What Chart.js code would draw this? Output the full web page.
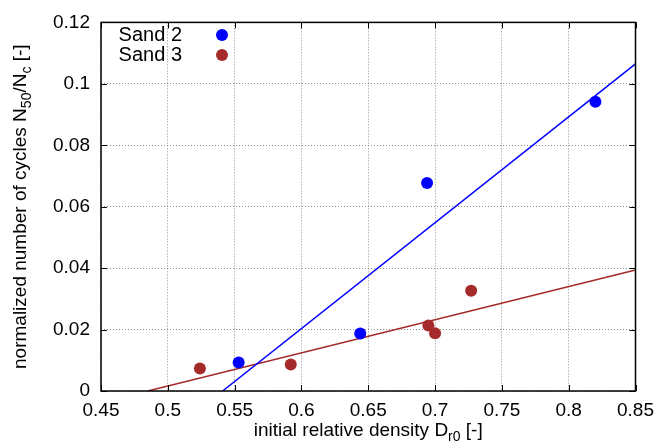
<!DOCTYPE html>
<html>
<head>
<meta charset="utf-8">
<script src="https://cdn.jsdelivr.net/npm/chart.js@4.4.1/dist/chart.umd.min.js"></script>
<style>
  html, body { margin: 0; padding: 0; background: #fff; }
  #wrap { width: 662px; height: 443px; }
</style>
</head>
<body>
<div id="wrap"><canvas id="chart"></canvas></div>
<script>
// --- data ---
const sand2X = [0.553, 0.644, 0.694, 0.820];
const sand2Y = [0.0093, 0.0187, 0.0677, 0.0942];
const sand3X = [0.524, 0.592, 0.695, 0.700, 0.727];
const sand3Y = [0.0073, 0.0086, 0.0213, 0.0188, 0.0326];

// fitted lines (end points)
const fit2X = [0.541, 0.85];
const fit2Y = [0, 0.1065];
const fit3X = [0.485, 0.85];
const fit3Y = [0, 0.0394];

const xTicks = [0.45, 0.5, 0.55, 0.6, 0.65, 0.7, 0.75, 0.8, 0.85];
const yTicks = [0, 0.02, 0.04, 0.06, 0.08, 0.1, 0.12];

const seriesNames = ['Sand 2', 'Sand 3'];
const BLUE = '#0000ff';
const BROWN = '#a52a2a';
const FONT = '"Liberation Sans", Arial, sans-serif';
const FSIZE = 19;

const pts = (xs, ys) => xs.map((x, i) => ({ x: x, y: ys[i] }));
const fmt = v => String(Number(v.toFixed(3)));

// draw a string made of normal and subscript parts
function richText(ctx, parts, x, y, size) {
  const subSize = Math.round(size * 0.72);
  let w = 0;
  parts.forEach(p => {
    ctx.font = (p.sub ? subSize : size) + 'px ' + FONT;
    p.w = ctx.measureText(p.t).width;
    w += p.w;
  });
  let cx = x - w / 2;
  ctx.textAlign = 'left';
  ctx.textBaseline = 'middle';
  parts.forEach(p => {
    ctx.font = (p.sub ? subSize : size) + 'px ' + FONT;
    ctx.fillText(p.t, cx, p.sub ? y + size * 0.3 : y);
    cx += p.w;
  });
}

const decor = {
  id: 'decor',
  afterDraw(chart) {
    const { ctx, chartArea: a, scales } = chart;
    ctx.save();
    ctx.fillStyle = '#000';
    ctx.strokeStyle = '#000';

    // inward ticks on all sides
    ctx.lineWidth = 1;
    ctx.beginPath();
    xTicks.forEach(v => {
      const px = Math.round(scales.x.getPixelForValue(v)) + 0.5;
      ctx.moveTo(px, a.bottom); ctx.lineTo(px, a.bottom - 6);
      ctx.moveTo(px, a.top); ctx.lineTo(px, a.top + 6);
    });
    yTicks.forEach(v => {
      const py = Math.round(scales.y.getPixelForValue(v)) + 0.5;
      ctx.moveTo(a.left, py); ctx.lineTo(a.left + 6, py);
      ctx.moveTo(a.right, py); ctx.lineTo(a.right - 6, py);
    });
    ctx.stroke();

    // frame
    ctx.lineWidth = 1.5;
    ctx.strokeRect(a.left, a.top, a.right - a.left, a.bottom - a.top);

    // axis titles
    richText(ctx, [
      { t: 'initial relative density D' }, { t: 'r0', sub: true }, { t: ' [-]' }
    ], (a.left + a.right) / 2, 431, FSIZE);

    ctx.save();
    ctx.translate(21, (a.top + a.bottom) / 2);
    ctx.rotate(-Math.PI / 2);
    richText(ctx, [
      { t: 'normalized number of cycles N' }, { t: '50', sub: true },
      { t: '/N' }, { t: 'c', sub: true }, { t: ' [-]' }
    ], 0, 0, FSIZE);
    ctx.restore();

    // legend, gnuplot style: text then marker
    const colors = [BLUE, BROWN];
    ctx.font = '20px ' + FONT;
    ctx.textAlign = 'right';
    ctx.textBaseline = 'middle';
    seriesNames.forEach((name, i) => {
      const ly = 35 + i * 20;
      ctx.fillStyle = '#000';
      ctx.fillText(name, 182, ly);
      ctx.fillStyle = colors[i];
      ctx.beginPath();
      ctx.arc(222, ly, 6, 0, Math.PI * 2);
      ctx.fill();
    });
    ctx.restore();
  }
};

const gridOpts = { color: '#8c8c8c', drawTicks: false, lineWidth: 1 };
const borderOpts = { display: false, dash: [1, 2] };

new Chart(document.getElementById('chart'), {
  type: 'scatter',
  data: {
    datasets: [
      { label: 'fit 2', data: pts(fit2X, fit2Y), showLine: true, borderColor: BLUE,
        borderWidth: 1.5, pointRadius: 0, order: 3 },
      { label: 'fit 3', data: pts(fit3X, fit3Y), showLine: true, borderColor: BROWN,
        borderWidth: 1.5, pointRadius: 0, order: 4 },
      { label: seriesNames[0], data: pts(sand2X, sand2Y), backgroundColor: BLUE,
        borderWidth: 0, pointRadius: 6, order: 1 },
      { label: seriesNames[1], data: pts(sand3X, sand3Y), backgroundColor: BROWN,
        borderWidth: 0, pointRadius: 6, order: 2 }
    ]
  },
  options: {
    responsive: true,
    maintainAspectRatio: false,
    animation: false,
    layout: { padding: { left: 0, right: 24, top: 19, bottom: 0 } },
    plugins: { legend: { display: false }, tooltip: { enabled: false } },
    scales: {
      x: {
        type: 'linear', min: 0.45, max: 0.85,
        afterBuildTicks: s => { s.ticks = xTicks.map(v => ({ value: v })); },
        afterFit: s => { s.height = 52; },
        border: borderOpts,
        grid: gridOpts,
        ticks: { color: '#000', padding: 8, maxRotation: 0, autoSkip: false,
                 font: { family: FONT, size: FSIZE }, callback: v => fmt(v) }
      },
      y: {
        type: 'linear', min: 0, max: 0.12,
        afterBuildTicks: s => { s.ticks = yTicks.map(v => ({ value: v })); },
        afterFit: s => { s.width = 101; },
        border: borderOpts,
        grid: gridOpts,
        ticks: { color: '#000', padding: 11, autoSkip: false,
                 font: { family: FONT, size: FSIZE }, callback: v => fmt(v) }
      }
    }
  },
  plugins: [decor]
});
</script>
</body>
</html>
